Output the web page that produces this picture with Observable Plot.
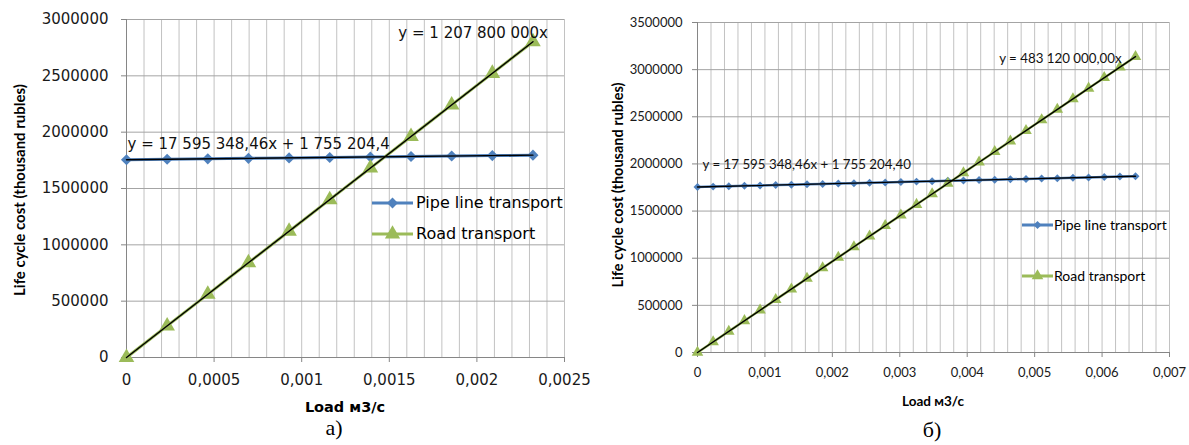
<!DOCTYPE html>
<html><head><meta charset="utf-8">
<script src="https://cdn.jsdelivr.net/npm/d3@7"></script>
<script src="https://cdn.jsdelivr.net/npm/@observablehq/plot@0.6"></script>
<style>
body{margin:0;background:#fff;}
#wrap{position:relative;width:1189px;height:445px;overflow:hidden;background:#fff;}
.abs{position:absolute;white-space:nowrap;line-height:1;}
.c{transform:translate(-50%,-50%);}
.rot{transform:translate(-50%,-50%) rotate(-90deg);}
svg.plotsvg{position:absolute;top:0;}
</style></head><body><div id="wrap"></div>
<script>
// ---- Chart a) data ----
const loadA = [0, 0.000232, 0.000464, 0.000696, 0.000928, 0.00116, 0.001392, 0.001624, 0.001856, 0.002088, 0.00232];
const pipeA = [1755204, 1759286, 1763368, 1767450, 1771532, 1775615, 1779697, 1783779, 1787861, 1791943, 1796025];
const roadA = [0, 280210, 560419, 840629, 1120838, 1401048, 1681258, 1961467, 2241677, 2521886, 2802096];
const xTicksA = [0, 0.0005, 0.001, 0.0015, 0.002, 0.0025];
const yTicksA = [0, 500000, 1000000, 1500000, 2000000, 2500000, 3000000];
const eqPipeA = "y = 17 595 348,46x + 1 755 204,4";
const eqRoadA = "y = 1 207 800 000x";

// ---- Chart б) data ----
const loadB = [0, 0.000232, 0.000464, 0.000696, 0.000928, 0.00116, 0.001392, 0.001624, 0.001856, 0.002088, 0.00232, 0.002552, 0.002784, 0.003016, 0.003248, 0.00348, 0.003712, 0.003944, 0.004176, 0.004408, 0.00464, 0.004872, 0.005104, 0.005336, 0.005568, 0.0058, 0.006032, 0.006264, 0.006496];
const pipeB = [1755204, 1759286, 1763368, 1767450, 1771532, 1775615, 1779697, 1783779, 1787861, 1791943, 1796025, 1800107, 1804189, 1808271, 1812353, 1816435, 1820518, 1824600, 1828682, 1832764, 1836846, 1840928, 1845010, 1849092, 1853174, 1857256, 1861338, 1865421, 1869503];
const roadB = [0, 112084, 224168, 336252, 448335, 560419, 672503, 784587, 896671, 1008755, 1120838, 1232922, 1345006, 1457090, 1569174, 1681258, 1793341, 1905425, 2017509, 2129593, 2241677, 2353761, 2465844, 2577928, 2690012, 2802096, 2914180, 3026264, 3138348];
const xTicksB = [0, 0.001, 0.002, 0.003, 0.004, 0.005, 0.006, 0.007];
const yTicksB = [0, 500000, 1000000, 1500000, 2000000, 2500000, 3000000, 3500000];
const eqPipeB = "y = 17 595 348,46x + 1 755 204,40";
const eqRoadB = "y = 483 120 000,00x";

const seriesNames = ["Pipe line transport", "Road transport"];
const yLabel = "Life cycle cost (thousand rubles)";
const xLabel = "Load м3/с";

const BLUE = "#4f81bd", GREEN = "#9bbb59", AX = "#868686";
const fmtX = d => String(+d.toFixed(6)).replace(".", ",");

function chart(o) {
  const pipe = o.load.map((x, i) => ({x, y: o.pipe[i]}));
  const road = o.load.map((x, i) => ({x, y: o.road[i]}));
  const xMax = o.xTicks[o.xTicks.length - 1], yMax = o.yTicks[o.yTicks.length - 1];
  const vgrid = d3.range(1, Math.round(xMax / o.minor) + 1).map(i => i * o.minor);
  const svg = Plot.plot({
    width: o.width, height: 420,
    marginLeft: o.ml, marginRight: o.mr, marginTop: o.mt, marginBottom: 420 - o.bottom,
    style: {fontFamily: o.font, fontSize: o.fs + "px", color: "#1a1a1a", background: "transparent"},
    x: {domain: [0, xMax]},
    y: {domain: [0, yMax]},
    marks: [
      Plot.gridX(vgrid, {stroke: "#c2c2c2", strokeOpacity: 1}),
      Plot.gridY(o.yTicks.slice(1), {stroke: "#a4a4a4", strokeOpacity: 1}),
      Plot.axisX({ticks: o.xTicks, tickFormat: fmtX, tickSize: 5, tickPadding: o.xpad, stroke: AX, label: null}),
      Plot.axisY({ticks: o.yTicks, tickFormat: d3.format("d"), tickSize: 5, tickPadding: o.ypad, stroke: AX, label: null}),
      Plot.ruleY([0], {stroke: AX}),
      Plot.ruleX([0], {stroke: AX}),
      Plot.line(pipe, {x: "x", y: "y", stroke: BLUE, strokeWidth: o.sw}),
      Plot.line(road, {x: "x", y: "y", stroke: GREEN, strokeWidth: o.sw}),
      Plot.dot(pipe, {x: "x", y: "y", symbol: "diamond2", r: o.rd, fill: BLUE}),
      Plot.dot(road, {x: "x", y: "y", symbol: "triangle", r: o.rt, fill: GREEN}),
      Plot.linearRegressionY(pipe, {x: "x", y: "y", stroke: "#000", strokeWidth: 1.4, ci: 0}),
      Plot.linearRegressionY(road, {x: "x", y: "y", stroke: "#000", strokeWidth: 1.4, ci: 0}),
      Plot.text([{...pipe[0], t: o.eqPipe}], {x: "x", y: "y", text: "t", textAnchor: "start", dx: o.eqPdx, dy: o.eqPdy, fontSize: o.eqfs, fill: "#111"}),
      Plot.text([{...road[road.length - 1], t: o.eqRoad}], {x: "x", y: "y", text: "t", textAnchor: "end", dx: o.eqRdx, dy: o.eqRdy, fontSize: o.eqfs, fill: "#111"})
    ]
  });
  svg.classList.add("plotsvg");
  svg.style.left = o.left + "px";
  return svg;
}

const wrap = document.getElementById("wrap");
wrap.appendChild(chart({
  load: loadA, pipe: pipeA, road: roadA, xTicks: xTicksA, yTicks: yTicksA, minor: 0.0001,
  width: 600, left: 0, ml: 126, mr: 36, mt: 19, bottom: 357, font: "DejaVu Sans", fs: 15,
  xpad: 12, ypad: 13, sw: 3, rd: 5, rt: 5.8, eqPipe: eqPipeA, eqRoad: eqRoadA, eqfs: 15,
  eqPdx: 1, eqPdy: -16, eqRdx: 15, eqRdy: -9
}));
wrap.appendChild(chart({
  load: loadB, pipe: pipeB, road: roadB, xTicks: xTicksB, yTicks: yTicksB, minor: 0.0002,
  width: 589, left: 600, ml: 97, mr: 20, mt: 22, bottom: 352, font: "Lato", fs: 13,
  xpad: 10, ypad: 10, sw: 2.5, rd: 3.6, rt: 4.3, eqPipe: eqPipeB, eqRoad: eqRoadB, eqfs: 13.3,
  eqPdx: 5, eqPdy: -22, eqRdx: -14, eqRdy: 2
}));

function swatch(x1, x2, y, color, sym, size) {
  const mid = (x1 + x2) / 2;
  const s = d3.symbol(sym === "d" ? d3.symbolDiamond2 : d3.symbolTriangle, size)();
  return `<svg class="abs" style="left:${x1}px;top:${y - 9}px" width="${x2 - x1}" height="18">
    <line x1="0" x2="${x2 - x1}" y1="9" y2="9" stroke="${color}" stroke-width="3"/>
    <path d="${s}" transform="translate(${mid - x1},9)" fill="${color}"/></svg>`;
}
function txt(cls, x, y, s, style) {
  return `<div class="abs ${cls}" style="left:${x}px;top:${y}px;${style}">${s}</div>`;
}
const fA = "font-family:'DejaVu Sans';";
const fB = "font-family:Lato;";
let html = "";
// legends
html += swatch(372, 413, 203, BLUE, "d", 75) + txt("", 416, 195, seriesNames[0], fA + "font-size:16px;");
html += swatch(372, 413, 234, GREEN, "t", 100) + txt("", 416, 226, seriesNames[1], fA + "font-size:16px;");
html += swatch(1022, 1053, 225, BLUE, "d", 40) + txt("", 1054, 218, seriesNames[0], fB + "font-size:14px;");
html += swatch(1022, 1053, 276, GREEN, "t", 58) + txt("", 1054, 269, seriesNames[1], fB + "font-size:14px;");
// axis titles
html += txt("rot", 19, 190, yLabel, "font-family:Lato;font-weight:bold;font-size:15px;");
html += txt("rot", 618, 185, yLabel, fB + "font-weight:bold;font-size:14.5px;");
html += txt("c", 345, 407, xLabel, fA + "font-weight:bold;font-size:14.5px;");
html += txt("c", 933, 402, xLabel, fB + "font-weight:bold;font-size:13.5px;");
// captions
html += txt("c", 334, 428, "а)", "font-family:'Liberation Serif';font-size:22px;");
html += txt("c", 932, 430, "б)", "font-family:'Liberation Serif';font-size:22px;");
wrap.insertAdjacentHTML("beforeend", html);
</script>
</body></html>
